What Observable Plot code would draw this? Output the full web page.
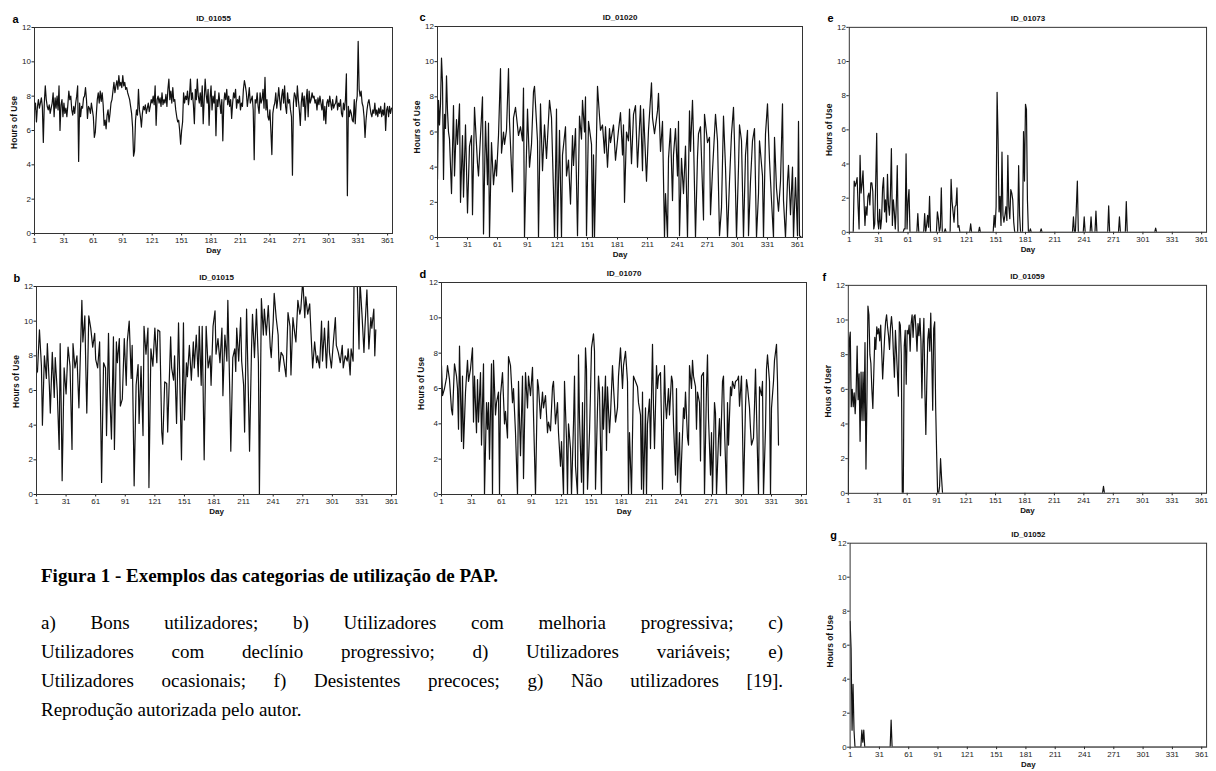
<!DOCTYPE html>
<html><head><meta charset="utf-8">
<script src="https://cdn.jsdelivr.net/npm/d3@7"></script>
<script src="https://cdn.jsdelivr.net/npm/@observablehq/plot@0.6"></script>
<style>
html,body{margin:0;padding:0;background:#fff}
body{width:1216px;height:771px;overflow:hidden;position:relative}
.panel{position:absolute}
.panel svg{overflow:visible;display:block}
.cap{position:absolute;left:41px;font-family:"Liberation Serif","Times New Roman",serif;font-size:19px;line-height:19px;color:#000;white-space:nowrap}
.head{font-weight:bold;display:inline-block}
.just{width:742px;text-align:justify;text-align-last:justify}
</style></head><body>
<div id="root"></div>
<div class="cap" style="top:566px"><span class="head">Figura 1 - Exemplos das categorias de utilização de PAP.</span></div>
<div class="cap just" style="top:613px">a) Bons utilizadores; b) Utilizadores com melhoria progressiva; c)</div>
<div class="cap just" style="top:642px">Utilizadores com declínio progressivo; d) Utilizadores variáveis; e)</div>
<div class="cap just" style="top:671px">Utilizadores ocasionais; f) Desistentes precoces; g) Não utilizadores [19].</div>
<div class="cap" style="top:700px">Reprodução autorizada pelo autor.</div>
<script>
const xTicks = [1,31,61,91,121,151,181,211,241,271,301,331,361];
const yTicks = [0,2,4,6,8,10,12];

// a) ID_01055 — daily hours, days 1..365
const hoursA = [
7.2,7.6,6.5,7.4,7.8,7.3,7.6,7.9,7.4,5.3, 7.6,8.6,7.8,7.4,7.2,7.5,7.0,7.3,7.6,8.2,
6.8,7.9,7.3,8.0,7.2,8.6,6.0,7.5,7.8,6.8, 7.6,7.0,7.3,6.8,7.5,8.3,7.8,8.0,7.2,6.9,
7.4,7.0,7.6,8.0,8.6,4.2,7.6,6.8,7.4,7.3, 7.9,8.0,8.5,7.8,6.7,7.4,7.3,7.0,7.6,7.2,
6.8,5.6,5.9,6.9,7.8,8.2,7.6,8.3,7.7,8.2, 7.5,6.3,6.6,6.1,6.9,7.2,6.5,7.0,7.6,7.8,
8.3,8.8,8.2,8.6,8.9,8.4,9.2,8.6,8.8,8.5, 9.2,8.6,8.8,8.4,8.5,8.2,8.0,7.8,7.4,7.0,
6.2,4.5,4.8,6.6,7.2,6.9,8.4,7.2,6.8,6.2, 7.0,7.4,7.2,7.5,7.0,7.3,7.6,7.1,7.4,7.8,
7.6,8.0,7.5,8.6,6.3,7.8,8.0,7.6,7.9,7.4, 8.2,7.5,7.8,7.6,8.1,7.4,8.4,9.0,7.8,8.3,
7.6,8.5,7.7,7.8,7.2,6.8,6.5,6.6,6.0,5.2, 6.0,6.5,8.2,7.6,8.0,7.8,8.3,7.5,8.0,9.0,
7.8,8.2,7.5,6.4,8.4,7.8,9.0,8.0,7.6,8.2, 7.4,8.6,6.4,7.8,9.0,8.1,7.6,8.4,6.3,7.9,
8.6,7.2,8.0,7.6,8.3,5.7,7.8,7.4,8.2,7.6, 7.0,7.8,5.4,7.6,8.2,7.8,8.4,7.5,8.0,7.4,
7.8,6.7,7.6,8.2,7.9,8.4,7.3,7.8,7.6,8.0, 7.2,7.6,7.4,8.4,8.9,8.6,8.2,7.4,7.9,8.5,
7.6,7.8,8.0,7.2,4.3,7.8,7.6,8.2,7.4,7.0, 8.2,7.6,7.8,8.4,7.3,9.1,7.2,7.8,6.8,6.6,
7.2,6.0,4.6,7.0,7.4,7.6,8.2,7.3,7.8,8.5, 7.8,7.2,8.0,8.4,7.6,8.6,7.4,7.0,8.2,7.6,
7.8,7.2,6.8,3.4,7.6,8.2,8.0,7.4,8.6,7.8, 7.2,6.3,7.6,8.2,7.4,8.0,6.6,7.8,8.4,6.8,
8.3,7.6,7.8,8.2,7.9,8.0,7.6,7.8,7.2,7.9, 7.5,8.0,7.6,7.2,7.8,6.6,7.4,6.4,7.6,7.8,
7.4,8.0,7.6,7.2,7.8,7.3,7.5,7.6,8.0,7.2, 7.6,7.4,7.8,7.0,6.8,7.6,7.2,7.8,9.3,2.2,
7.4,6.8,7.2,7.0,6.6,6.5,7.8,6.4,7.6,8.0, 11.2,8.4,8.0,8.3,7.6,7.4,6.8,5.6,6.6,7.2,
7.6,7.8,7.4,7.0,6.8,7.2,7.0,7.6,6.9,7.2, 6.8,7.3,7.0,7.4,6.8,7.2,6.9,7.6,6.0,7.2,
7.4,6.8,7.4,7.0,7.3];

// c) ID_01020 — [day, hours]
const seriesC = [[1,3.3],[2,7.8],[3,6.4],[4,7.6],[5,10.2],[6,8.8],[7,3.3],[8,7.0],[9,6.2],[10,9.2],[11,7.2],[12,6.0],[13,5.6],[15,2.5],[17,7.5],[18,3.5],[20,6.7],[21,5.3],[23,7.6],[24,2.0],[26,5.8],[27,2.3],[29,6.4],[31,1.4],[33,5.2],[35,5.8],[36,1.3],[38,7.4],[41,4.2],[42,3.5],[44,5.8],[46,8.0],[47,0.2],[49,6.6],[51,3.0],[52,6.5],[53,0],[55,5.4],[57,3.0],[59,4.4],[60,3.5],[62,5.8],[64,9.6],[65,4.8],[67,6.0],[68,5.3],[70,6.1],[72,9.6],[73,6.6],[76,2.6],[77,6.8],[79,7.4],[82,5.8],[84,6.3],[86,5.5],[87,8.5],[88,0],[91,7.3],[93,4.0],[95,5.3],[97,8.3],[98,8.6],[101,5.5],[102,0],[104,7.6],[106,3.8],[108,6.4],[110,4.5],[113,7.8],[115,6.8],[117,2.6],[118,0],[120,7.3],[121,0],[123,6.1],[125,0],[126,4.7],[129,6.3],[130,3.5],[132,4.4],[134,1.9],[136,5.8],[137,4.1],[139,6.2],[141,0.1],[143,6.9],[145,5.6],[146,7.8],[148,6.0],[149,8.0],[150,0.1],[152,6.6],[155,5.3],[156,0],[157,4.7],[158,0],[161,8.6],[163,6.9],[164,6.1],[166,6.4],[168,4.8],[169,6.3],[171,4.0],[173,6.2],[174,5.4],[177,6.4],[179,4.4],[182,6.1],[184,7.1],[186,4.7],[187,6.4],[188,2.0],[190,6.0],[192,5.5],[193,7.3],[195,4.2],[197,7.0],[199,7.5],[201,4.0],[204,7.5],[206,3.8],[207,7.3],[210,3.2],[212,6.1],[215,8.8],[216,6.8],[218,5.9],[221,7.2],[222,8.2],[224,4.9],[226,6.6],[228,0],[229,2.5],[231,0],[232,4.5],[234,6.2],[236,2.1],[237,4.7],[239,6.2],[241,3.5],[242,6.6],[243,0.1],[245,4.5],[247,2.5],[249,5.2],[251,0],[253,7.2],[254,4.9],[256,7.8],[257,5.7],[259,0],[261,4.6],[262,5.9],[264,6.3],[267,1.0],[268,7.0],[271,5.4],[273,5.7],[274,1.3],[276,3.8],[279,7.0],[281,5.5],[283,0.1],[285,1.7],[287,6.9],[289,4.0],[291,0],[293,3.2],[295,5.9],[297,7.4],[298,5.4],[300,0],[302,4.0],[303,6.4],[305,5.5],[307,0],[309,4.7],[311,6.1],[312,0.1],[314,3.2],[316,5.5],[318,6.2],[320,0],[322,2.5],[323,5.5],[326,3.5],[327,0],[329,5.9],[331,7.6],[333,4.4],[335,2.1],[337,0],[338,5.7],[340,2.8],[342,1.5],[344,3.2],[346,7.6],[347,2.1],[349,0],[351,3.2],[352,4.1],[354,1.3],[356,4.0],[357,0],[359,3.4],[361,0.1],[362,6.6],[363,0.1],[365,0]];

// e) ID_01073
const seriesE = [[1,0],[5,0],[6,3.0],[7,2.7],[8,2.9],[9,3.2],[10,1.5],[11,0.2],[12,4.5],[13,2.3],[14,2.8],[15,3.6],[16,1.9],[17,0.4],[18,1.5],[19,1.0],[20,2.1],[21,2.3],[22,1.6],[23,2.9],[24,2.9],[25,2.4],[26,0.2],[27,0.5],[28,3.0],[29,5.8],[30,0.7],[31,0.2],[32,1.35],[33,0.2],[34,0.8],[35,2.6],[36,3.2],[37,1.2],[38,1.9],[39,0.6],[40,3.4],[41,1.6],[42,1.0],[43,2.2],[44,4.9],[45,0.4],[46,1.9],[47,1.2],[48,0.2],[49,1.6],[50,3.9],[51,0],[56,0],[57,0.2],[58,0.2],[59,4.6],[60,0.2],[61,1.8],[62,2.5],[63,0],[70,0],[71,1.1],[72,0],[77,0],[78,1.1],[79,0],[80,0.4],[81,1.0],[82,0.3],[83,2.1],[84,0],[90,0],[91,1.2],[92,0.8],[93,0],[94,0.3],[95,2.6],[96,0],[98,0],[99,0.2],[100,0],[104,0],[105,3.1],[106,1.8],[107,1.2],[108,0.6],[109,1.5],[110,1.6],[111,2.6],[112,0.3],[113,0.4],[114,0],[124,0],[125,0.5],[126,0],[133,0],[134,0.3],[135,0],[148,0],[149,1.0],[150,0.3],[151,1.5],[152,8.2],[153,5.5],[154,1.2],[155,2.1],[156,0.4],[157,4.7],[158,1.0],[159,0.6],[160,1.0],[161,1.5],[162,0.7],[163,4.5],[164,1.5],[165,0.8],[166,2.5],[167,2.3],[168,1.9],[169,0.6],[170,0],[173,0],[174,3.9],[175,1.0],[176,0],[178,0],[179,5.9],[180,3.0],[181,7.5],[182,7.2],[183,1.9],[184,0],[185,0],[186,0.2],[187,0],[196,0],[197,0.2],[198,0],[229,0],[230,0.9],[231,0],[232,0],[233,1.5],[234,3.0],[235,0],[240,0],[241,0.9],[242,0],[247,0],[248,0.9],[249,0],[252,0],[253,1.25],[254,0],[265,0],[266,1.55],[267,0],[276,0],[277,0.9],[278,0],[283,0],[284,1.8],[285,0],[313,0],[314,0.25],[315,0],[365,0]];

// b) ID_01015
const seriesB = [[1,7.0],[2,7.1],[4,9.5],[6,7.4],[7,4.0],[9,8.0],[11,6.7],[12,8.7],[14,6.3],[15,4.7],[17,8.2],[19,5.6],[20,7.9],[22,6.0],[24,2.6],[25,8.7],[26,5.3],[27,0.8],[29,7.3],[31,5.8],[33,8.5],[35,7.4],[37,2.6],[38,8.7],[40,7.3],[42,8.0],[44,5.0],[47,11.2],[48,8.8],[50,10.3],[51,7.3],[52,4.7],[54,10.3],[56,9.6],[58,8.5],[60,9.3],[61,7.8],[63,7.3],[65,8.8],[67,0.7],[68,4.3],[69,7.6],[71,7.3],[72,3.4],[74,9.3],[75,6.3],[77,3.2],[79,9.1],[80,2.6],[82,8.8],[83,7.6],[85,9.0],[86,5.1],[88,5.5],[90,9.0],[92,6.3],[93,8.8],[95,10.0],[97,6.7],[98,8.6],[100,0.5],[102,6.3],[104,7.5],[105,4.1],[107,7.4],[109,3.4],[110,9.7],[112,8.1],[114,9.6],[115,0.4],[117,8.4],[119,7.4],[121,9.6],[123,7.6],[124,9.5],[126,9.4],[128,3.6],[129,2.9],[131,6.5],[133,6.4],[134,3.6],[137,9.1],[138,7.3],[140,6.6],[141,8.0],[143,4.1],[145,9.9],[146,7.3],[148,2.0],[150,9.9],[151,4.3],[153,7.6],[154,6.8],[156,8.6],[158,6.6],[160,8.8],[161,7.3],[163,9.2],[165,6.8],[166,9.7],[168,6.3],[169,9.7],[171,2.0],[173,9.7],[175,7.3],[177,8.0],[178,6.3],[180,9.7],[182,10.6],[183,8.1],[185,9.0],[187,7.6],[189,9.6],[190,5.7],[192,9.2],[194,7.7],[195,11.2],[197,5.8],[198,2.5],[200,7.9],[202,8.4],[203,7.1],[204,9.6],[206,7.7],[208,10.2],[209,7.7],[211,6.3],[212,3.6],[214,10.7],[216,5.3],[217,2.5],[219,8.4],[220,10.4],[222,7.9],[224,10.7],[226,7.6],[227,0],[229,11.3],[231,9.2],[232,10.7],[234,9.2],[236,10.9],[238,8.5],[239,7.9],[241,10.0],[242,11.6],[244,10.2],[246,9.2],[247,7.1],[249,8.2],[251,8.0],[252,7.6],[254,6.8],[256,10.5],[258,9.7],[259,6.9],[261,10.2],[263,9.2],[264,8.8],[266,11.2],[268,10.4],[269,10.7],[271,12.4],[273,10.2],[274,11.4],[276,10.4],[278,11.0],[279,9.7],[281,7.3],[283,8.8],[285,7.6],[286,8.0],[288,7.3],[290,10.0],[291,7.7],[293,9.6],[295,7.3],[297,10.0],[298,8.2],[300,7.3],[302,8.8],[304,10.2],[305,8.6],[307,8.2],[309,7.6],[311,8.6],[312,7.3],[314,8.0],[316,7.7],[317,8.4],[319,6.9],[320,8.4],[322,7.7],[323,12.5],[325,12.3],[326,12.6],[328,8.4],[329,12.3],[331,10.4],[333,8.2],[334,9.6],[336,11.8],[338,8.4],[340,10.2],[341,9.6],[343,10.7],[344,8.0],[345,9.5]];

// d) ID_01070
const seriesD = [[1,7.3],[2,5.6],[4,6.0],[6,6.6],[7,7.3],[9,6.5],[11,4.8],[12,4.5],[14,7.4],[16,6.7],[17,6.0],[18,3.7],[19,8.4],[21,3.0],[22,6.7],[23,2.6],[25,5.8],[27,7.6],[28,6.4],[30,7.1],[32,8.3],[33,4.1],[34,6.7],[36,3.5],[37,6.5],[38,4.1],[40,6.9],[41,2.8],[43,7.4],[44,0],[46,5.2],[47,3.7],[48,5.2],[49,2.0],[51,7.4],[52,0],[53,7.6],[55,4.5],[56,5.2],[58,5.8],[59,0],[60,5.6],[62,6.9],[64,4.0],[65,4.7],[67,3.2],[68,7.8],[70,7.3],[72,5.2],[73,6.0],[75,3.5],[77,0],[78,6.4],[80,2.2],[82,6.7],[83,0.9],[85,6.9],[87,4.9],[88,6.7],[90,5.6],[92,7.2],[93,4.5],[95,0],[97,6.5],[98,6.1],[100,4.3],[102,5.8],[103,4.9],[105,5.6],[107,3.5],[108,4.1],[110,3.6],[112,6.1],[113,6.4],[115,4.0],[117,5.2],[118,3.5],[120,1.6],[121,3.0],[123,0],[124,6.4],[126,3.1],[127,0],[128,4.0],[130,2.6],[131,0],[133,4.0],[134,6.7],[135,1.6],[137,0],[138,7.9],[139,4.3],[141,0.7],[142,5.2],[143,0],[145,8.3],[146,7.1],[147,0.3],[149,3.5],[150,5.8],[151,8.3],[153,9.1],[154,8.1],[155,0.3],[157,4.9],[158,6.7],[159,5.8],[161,0],[162,6.1],[163,3.7],[165,6.7],[166,2.5],[167,6.1],[169,3.5],[170,4.5],[172,7.3],[173,6.1],[175,4.1],[177,4.9],[178,6.7],[180,8.3],[182,6.0],[183,7.3],[185,8.1],[187,6.4],[188,0],[189,3.5],[191,0],[193,6.7],[195,6.4],[197,6.1],[198,5.2],[200,4.5],[201,0.3],[202,5.8],[203,0],[205,4.9],[206,0],[207,4.0],[209,5.4],[210,2.6],[212,8.5],[213,4.9],[214,2.6],[216,7.3],[217,6.0],[218,6.7],[220,6.9],[221,4.1],[222,0.3],[224,7.3],[225,5.2],[226,4.3],[228,6.0],[229,4.5],[231,6.7],[232,6.4],[233,4.0],[235,1.1],[236,6.0],[237,0.7],[239,3.5],[240,0],[241,1.9],[243,4.9],[244,4.3],[245,5.8],[247,3.2],[248,2.8],[249,7.3],[251,6.0],[252,7.6],[253,6.7],[255,6.1],[256,3.7],[257,5.8],[259,5.2],[260,1.9],[261,6.7],[263,6.9],[264,0],[266,6.0],[267,7.9],[268,4.3],[270,1.1],[271,3.5],[272,0],[274,5.2],[275,4.6],[276,0],[278,3.2],[279,4.3],[280,2.2],[282,6.4],[283,6.7],[284,3.7],[286,0],[287,5.2],[288,2.8],[290,6.1],[291,5.6],[292,6.4],[294,6.0],[295,6.4],[297,6.5],[298,6.7],[299,5.0],[301,6.7],[302,3.7],[303,0],[305,5.0],[306,6.5],[307,6.1],[309,4.9],[310,3.7],[311,2.8],[313,3.2],[314,5.0],[315,7.1],[317,2.2],[318,0],[319,6.1],[321,5.6],[322,6.4],[323,0],[325,3.7],[326,7.1],[327,7.9],[329,6.4],[330,0],[331,4.9],[333,6.4],[334,7.6],[336,8.5],[337,6.4],[338,2.8]];

// f) ID_01059
const seriesF = [[1,0],[2,8.8],[3,9.3],[4,5.0],[5,6.0],[6,5.0],[7,5.8],[8,4.6],[9,5.9],[10,8.5],[11,5.4],[12,6.9],[13,3.0],[14,7.0],[15,4.2],[16,7.0],[17,4.2],[18,8.7],[19,1.4],[20,5.5],[21,10.8],[22,10.3],[23,8.0],[24,7.5],[25,6.0],[26,4.9],[27,7.0],[28,9.0],[29,8.3],[30,9.6],[31,9.2],[32,9.5],[33,8.8],[34,9.7],[35,8.2],[36,6.6],[37,7.8],[38,9.0],[39,9.9],[40,10.3],[41,9.6],[42,9.1],[43,8.3],[44,9.6],[45,10.2],[46,9.5],[47,8.0],[48,6.7],[49,9.4],[50,8.2],[51,7.0],[52,5.6],[53,9.9],[54,9.7],[55,8.0],[56,0],[57,0],[58,8.5],[59,9.4],[60,6.3],[61,9.4],[62,9.2],[63,9.7],[64,8.2],[65,9.8],[66,10.3],[67,9.0],[68,10.2],[69,10.3],[70,9.4],[71,8.2],[72,9.8],[73,9.1],[74,10.1],[75,8.8],[76,5.5],[77,8.6],[78,10.1],[79,6.0],[80,3.4],[81,6.5],[82,8.9],[83,9.5],[84,8.2],[85,10.4],[86,8.0],[87,4.8],[88,9.5],[89,9.9],[90,5.0],[91,2.3],[92,0],[93,0],[94,0.4],[95,2.0],[96,0.9],[97,0],[260,0],[261,0.4],[262,0],[365,0]];

// g) ID_01052
const seriesG = [[1,7.4],[2,5.8],[3,1.0],[4,3.7],[5,1.0],[6,0],[12,0],[13,1.0],[14,0.3],[15,1.0],[16,0],[42,0],[43,1.6],[44,0],[365,0]];

const panels = [
  {letter:"a", title:"ID_01055", ylabel:"Hours of Use", frame:[34,27,392,233], data:hoursA.map((h,i)=>[i+1,h]), lx:-22, ly:-8, yd:-8},
  {letter:"c", title:"ID_01020", ylabel:"Hours of Use", frame:[437,26,802,237], data:seriesC, lx:-18, ly:-9, yd:-5},
  {letter:"e", title:"ID_01073", ylabel:"Hours of Use", frame:[849,27,1208,233], data:seriesE, lx:-22, ly:-9, yd:0},
  {letter:"b", title:"ID_01015", ylabel:"Hours of Use", frame:[36,286,396,494], data:seriesB, lx:-23, ly:-8, yd:-9},
  {letter:"d", title:"ID_01070", ylabel:"Hours of Use", frame:[441,282,806,494], data:seriesD, lx:-22, ly:-8, yd:-5},
  {letter:"f", title:"ID_01059", ylabel:"Hous of User", frame:[848,285,1208,494], data:seriesF, lx:-26, ly:-8, yd:2},
  {letter:"g", title:"ID_01052", ylabel:"Hours of Use", frame:[850,543,1210,749], data:seriesG, lx:-20, ly:-8, yd:-4}
];

const ml=40, mt=30, mr=10, mb=26;
const root = document.getElementById("root");
for (const p of panels) {
  const [x0,y0,x1,y1] = p.frame;
  const rows = p.data.map(([day,hours])=>({day,hours}));
  const chart = Plot.plot({
    width: (x1-x0)+ml+mr, height: (y1-y0)+mt+mb,
    marginLeft: ml, marginTop: mt, marginRight: mr, marginBottom: mb,
    style: {fontFamily:'"Liberation Sans", Arial, sans-serif', fontSize:"8px", color:"#222", background:"transparent", overflow:"visible"},
    x: {domain:[1,366], ticks:xTicks, tickSize:2.5, tickPadding:1.5, label:null},
    y: {domain:[0,12], ticks:yTicks, tickSize:2.5, tickPadding:1, label:null},
    marks: [
      Plot.lineY(rows, {x:"day", y:"hours", stroke:"#111", strokeWidth:1.2, clip:true}),
      Plot.frame({stroke:"#333", strokeWidth:1}),
      Plot.text([p.title], {text:d=>d, frameAnchor:"top", dy:-9, lineAnchor:"middle", textAnchor:"middle", fontWeight:"bold", fontSize:8, fill:"#111"}),
      Plot.text([p.letter], {text:d=>d, frameAnchor:"top-left", dx:p.lx, dy:p.ly, lineAnchor:"middle", textAnchor:"start", fontWeight:"bold", fontSize:11, fill:"#000"}),
      Plot.text([p.ylabel], {text:d=>d, frameAnchor:"left", dx:-20, dy:p.yd, rotate:-90, lineAnchor:"middle", textAnchor:"middle", fontWeight:"bold", fontSize:8.5, fill:"#111"}),
      Plot.text(["Day"], {text:d=>d, frameAnchor:"bottom", dy:17, lineAnchor:"middle", textAnchor:"middle", fontWeight:"bold", fontSize:8, fill:"#111"})
    ]
  });
  const div = document.createElement("div");
  div.className = "panel";
  div.style.left = (x0-ml)+"px";
  div.style.top = (y0-mt)+"px";
  div.appendChild(chart);
  root.appendChild(div);
}
</script>
</body></html>
